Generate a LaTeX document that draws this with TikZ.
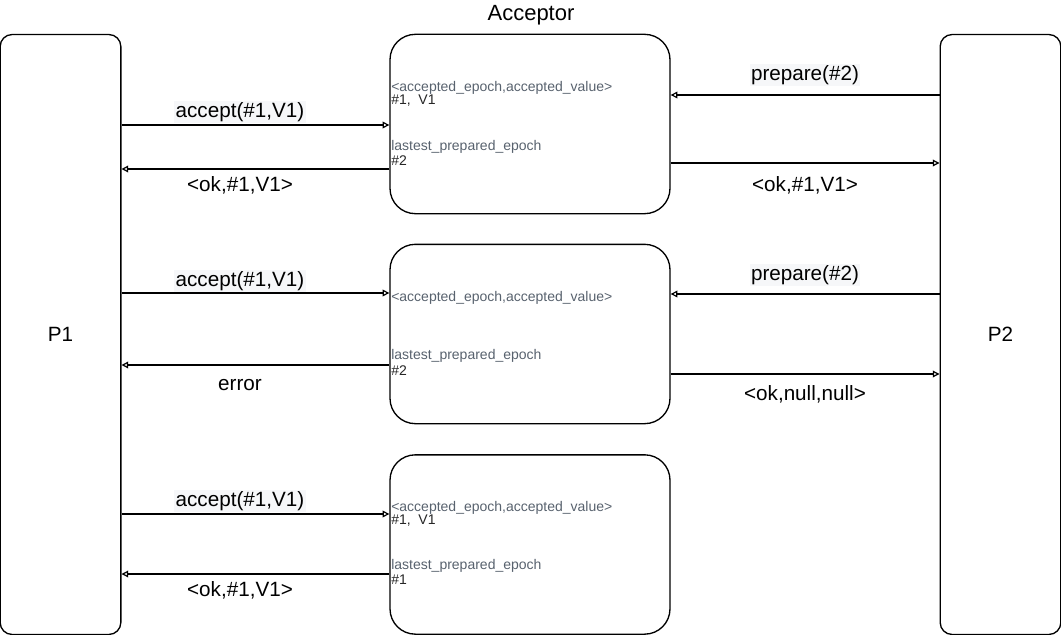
\documentclass[tikz,border=0pt]{standalone}
\usepackage{fontspec}
\setmainfont{Liberation Sans}
\usetikzlibrary{arrows.meta}
\definecolor{fieldgray}{RGB}{88,98,110}
\definecolor{lblbg}{RGB}{246,247,249}
\tikzset{
  proc/.style={draw, line width=1pt, rounded corners=9pt, minimum width=90.5pt, minimum height=450pt, inner sep=0pt, font=\fontsize{15.5}{18}\selectfont},
  accbox/.style={draw, line width=1pt, rounded corners=19pt, minimum width=210pt, minimum height=134.5pt, inner sep=0pt},
  fld/.style={anchor=west, inner sep=0pt, text=fieldgray, font=\fontsize{10.5}{12}\selectfont},
  val/.style={anchor=west, inner sep=0pt, text=black!85, font=\fontsize{10.5}{12}\selectfont},
  lbl/.style={inner sep=1pt, font=\fontsize{15.5}{18}\selectfont},
  lblh/.style={lbl, fill=lblbg},
  msg/.style={line width=0.9pt, -{Triangle[open, length=5pt, width=5pt]}}
}
\begin{document}
\begin{tikzpicture}[x=0.75pt, y=-0.75pt]
\useasboundingbox (0,0) rectangle (1061,635);
% processes
\node[proc] (P1) at (60.5,334.5) {P1};
\node[proc] (P2) at (1000.5,334.5) {P2};
% acceptor title
\node[font=\fontsize{16.5}{20}\selectfont, inner sep=0pt] (title) at (531,15) {Acceptor};
% acceptor boxes
\node[accbox] (A1) at (530,124) {};
\node[accbox] (A2) at (530,334) {};
\node[accbox] (A3) at (530,544.5) {};
% box 1 text
\node[fld] (a1f1) at (391,88) {<accepted\_epoch,accepted\_value>};
\node[val] (a1v1) at (391,101) {\#1,\ \ V1};
\node[fld] (a1f2) at (391,147) {lastest\_prepared\_epoch};
\node[val] (a1v2) at (391,161) {\#2};
% box 2 text
\node[fld] (a2f1) at (391,298) {<accepted\_epoch,accepted\_value>};
\node[fld] (a2f2) at (391,356) {lastest\_prepared\_epoch};
\node[val] (a2v2) at (391,371) {\#2};
% box 3 text
\node[fld] (a3f1) at (391,508) {<accepted\_epoch,accepted\_value>};
\node[val] (a3v1) at (391,521) {\#1,\ \ V1};
\node[fld] (a3f2) at (391,566) {lastest\_prepared\_epoch};
\node[val] (a3v2) at (391,580) {\#1};
% messages box 1
\draw[msg] (P1.east |- 0,125) -- (A1.west |- 0,125);
\draw[msg] (A1.west |- 0,169) -- (P1.east |- 0,169);
\draw[msg] (P2.west |- 0,95) -- (A1.east |- 0,95);
\draw[msg] (A1.east |- 0,163) -- (P2.west |- 0,163);
\node[lblh] (m1) at (240,112) {accept(\#1,V1)};
\node[lbl] (m2) at (240,185) {<ok,\#1,V1>};
\node[lblh] (m3) at (805,75) {prepare(\#2)};
\node[lbl] (m4) at (805,185) {<ok,\#1,V1>};
% messages box 2
\draw[msg] (P1.east |- 0,293) -- (A2.west |- 0,293);
\draw[msg] (A2.west |- 0,365) -- (P1.east |- 0,365);
\draw[msg] (P2.west |- 0,294) -- (A2.east |- 0,294);
\draw[msg] (A2.east |- 0,374) -- (P2.west |- 0,374);
\node[lblh] (m5) at (240,281) {accept(\#1,V1)};
\node[lbl] (m6) at (240,385) {error};
\node[lblh] (m7) at (805,275) {prepare(\#2)};
\node[lbl] (m8) at (805,394) {<ok,null,null>};
% messages box 3
\draw[msg] (P1.east |- 0,514) -- (A3.west |- 0,514);
\draw[msg] (A3.west |- 0,574) -- (P1.east |- 0,574);
\node[lblh] (m9) at (240,501) {accept(\#1,V1)};
\node[lbl] (m10) at (240,590) {<ok,\#1,V1>};
\end{tikzpicture}
\end{document}
